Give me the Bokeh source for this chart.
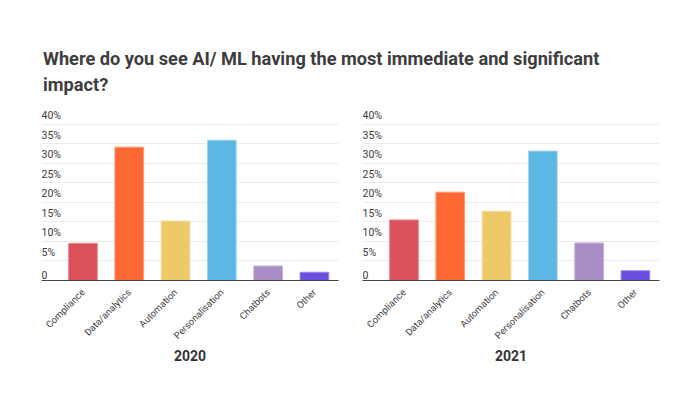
import math
from bokeh.plotting import figure
from bokeh.models import (Range1d, FixedTicker, ColumnDataSource, Title, Div)
from bokeh.layouts import row, column
from bokeh.core.properties import value
from bokeh.embed import file_html
from bokeh.resources import INLINE

categories = ["Compliance", "Data/analytics", "Automation", "Personalisation", "Chatbots", "Other"]
values_2020 = [9.5, 34.1, 15.2, 35.9, 3.7, 2.1]
values_2021 = [15.5, 22.6, 17.7, 33.1, 9.6, 2.5]
colors = ["#d9515b", "#fe6835", "#edc967", "#5db7e5", "#a98dc5", "#6a4ee0"]
edge_colors = ["#e88a90", "#ff9a72", "#f5dc9a", "#9fd4ef", "#c6b3da", "#9b88eb"]
y_ticks = [0, 5, 10, 15, 20, 25, 30, 35, 40]
y_tick_labels = ["0", "5%", "10%", "15%", "20%", "25%", "30%", "35%", "40%"]
title_text = "Where do you see AI/ ML having the most immediate and significant impact?"
FONT = "Roboto"


def make_plot(vals, year, width, left, right):
    x_start, x_end = -0.896, 5.52
    p = figure(width=width, height=286, output_backend="svg", toolbar_location=None,
               x_range=Range1d(x_start, x_end), y_range=Range1d(0, 44.5),
               min_border_left=left, min_border_right=right, min_border_top=2,
               min_border_bottom=110)
    p.outline_line_color = None
    p.background_fill_color = "white"
    p.border_fill_color = "white"
    xs = list(range(len(categories)))
    src = ColumnDataSource(dict(x=xs, top=vals, color=colors, edge=edge_colors))
    p.vbar(x="x", top="top", width=0.62, source=src, fill_color="color",
           line_color="edge", line_width=1)
    # y gridlines
    p.ygrid.ticker = FixedTicker(ticks=y_ticks[1:])
    p.ygrid.grid_line_color = "#ebebeb"
    p.ygrid.grid_line_width = 1
    p.xgrid.grid_line_color = None
    p.yaxis.visible = False
    # y tick labels inside the frame
    lsrc = ColumnDataSource(dict(x=[x_start] * len(y_ticks), y=y_ticks, t=y_tick_labels))
    p.text(x="x", y="y", text="t", source=lsrc, text_font=value(FONT),
           text_font_size="10.5px", text_color="#3c3c3c", text_align="left",
           text_baseline="bottom", y_offset=-2)
    # x axis
    ax = p.xaxis[0]
    ax.ticker = FixedTicker(ticks=xs)
    ax.major_label_overrides = {i: c for i, c in enumerate(categories)}
    ax.major_label_orientation = math.pi / 4
    ax.major_label_text_font = FONT
    ax.major_label_text_font_size = "9.5px"
    ax.major_label_text_color = "#3c3c3c"
    ax.major_label_standoff = 4
    ax.major_tick_line_color = None
    ax.minor_tick_line_color = None
    ax.axis_line_color = "#3d4a3d"
    ax.axis_line_width = 1
    t = Title(text=year, align="center", text_font=FONT, text_font_size="14px",
              text_font_style="bold", text_color="#333333", standoff=0)
    p.add_layout(t, "below")
    return p


p1 = make_plot(values_2020, "2020", 350, 41, 12)
p2 = make_plot(values_2021, "2021", 340, 12, 31)

header = Div(text=title_text, width=640, height=94,
             styles={"font-family": FONT, "font-size": "18.2px", "font-weight": "bold",
                     "color": "#3d3d3d", "line-height": "26px",
                     "padding-left": "38px", "padding-top": "41px",
                     "box-sizing": "border-box"})

layout = column(header, row(p1, p2))
open("out.html", "w").write(file_html(layout, INLINE))
